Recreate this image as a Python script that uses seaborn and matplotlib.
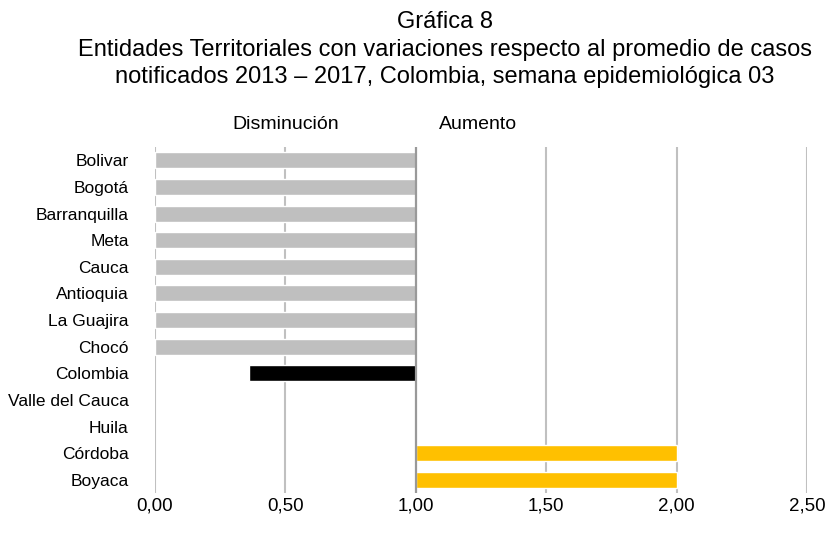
import numpy as np
import pandas as pd
import matplotlib
matplotlib.use("Agg")
import matplotlib.pyplot as plt
import seaborn as sns
from matplotlib.ticker import FuncFormatter

# data (ratio vs 2013-2017 average, baseline 1.0)
entidades = ["Bolivar", "Bogotá", "Barranquilla", "Meta", "Cauca", "Antioquia",
             "La Guajira", "Chocó", "Colombia", "Valle del Cauca", "Huila",
             "Córdoba", "Boyaca"]
razon = [0.0, 0.0, 0.0, 0.0, 0.0, 0.0, 0.0, 0.0, 0.36, 1.0, 1.0, 2.0, 2.0]
grupo = ["dis"] * 8 + ["col"] + ["igual"] * 2 + ["aum"] * 2
colores = {"dis": "#BFBFBF", "col": "#000000", "igual": "#BFBFBF", "aum": "#FFC000"}
base = 1.0
xticks = [0.0, 0.5, 1.0, 1.5, 2.0, 2.5]

df = pd.DataFrame({"entidad": entidades, "razon": razon, "grupo": grupo})
df["delta"] = df["razon"] - base

sns.set_style("white")
plt.rcParams["font.family"] = ["Liberation Sans", "DejaVu Sans"]
plt.rcParams["text.color"] = "black"

fig = plt.figure(figsize=(8.29, 5.33), dpi=100)
ax = fig.add_axes([0.187, 0.075, 0.7865, 0.649])

sns.barplot(data=df, y="entidad", x="delta", hue="grupo", palette=colores,
            order=entidades, dodge=False, width=0.6, legend=False,
            saturation=1, ax=ax, zorder=3)

ax.set_xlim(xticks[0] - base, xticks[-1] - base)
ax.set_xticks([t - base for t in xticks])
ax.xaxis.set_major_formatter(FuncFormatter(lambda v, p: f"{v + base:.2f}".replace(".", ",")))
for t in xticks:
    if t == base:
        ax.axvline(t - base, color="#999999", lw=1.6, zorder=4)
    else:
        ax.axvline(t - base, color="#C0C0C0", lw=1.5, zorder=1)

for s in ax.spines.values():
    s.set_visible(False)
ax.set_xlabel("")
ax.set_ylabel("")
ax.tick_params(axis="y", length=0, labelsize=12.5, colors="black", pad=19)
ax.tick_params(axis="x", length=0, labelsize=13.5, colors="black", pad=3)

ax.text(0.5 - base, 1.065, "Disminución", transform=ax.get_xaxis_transform(),
        ha="center", va="center", fontsize=14, color="black")
ax.text(1.24 - base, 1.065, "Aumento", transform=ax.get_xaxis_transform(),
        ha="center", va="center", fontsize=14, color="black")

fig.text(0.537, 0.907,
         "Gráfica 8\nEntidades Territoriales con variaciones respecto al promedio de casos\n"
         "notificados 2013 – 2017, Colombia, semana epidemiológica 03",
         ha="center", va="center", fontsize=17, linespacing=1.33, color="black")

fig.savefig("out.png", dpi=100)
